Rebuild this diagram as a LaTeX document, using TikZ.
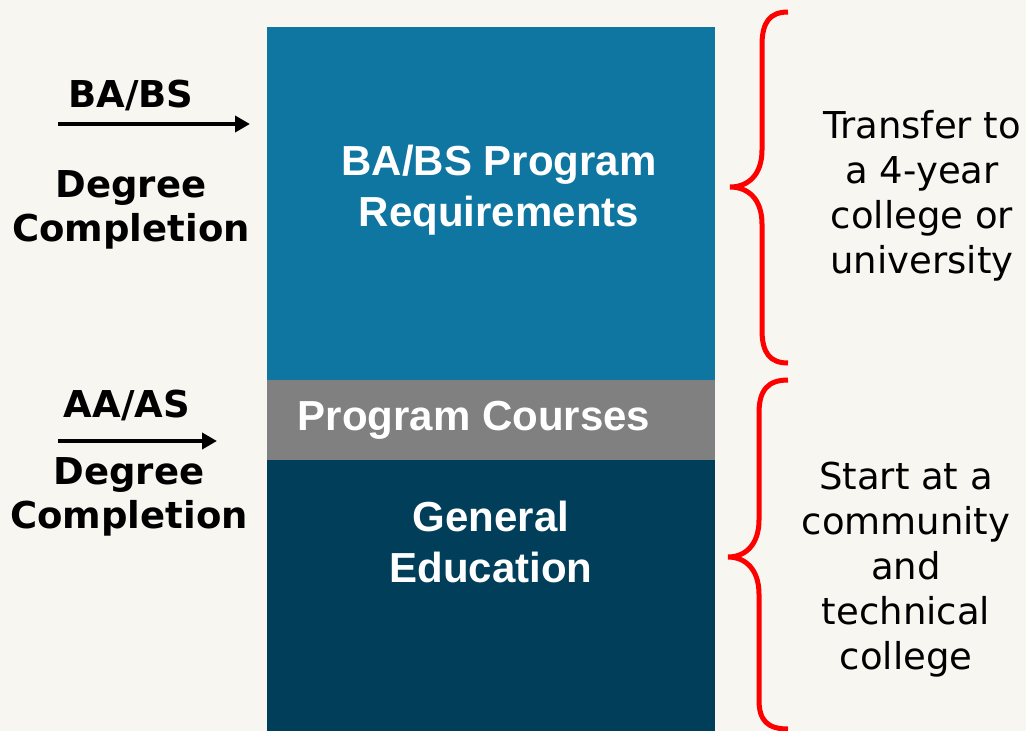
\documentclass[tikz,border=0pt]{standalone}
\usepackage{fontspec}
\setmainfont{Liberation Sans}
\newfontfamily\dvs{DejaVu Sans}
\usetikzlibrary{arrows.meta}
\definecolor{bg}{RGB}{247,246,240}
\definecolor{topblue}{RGB}{14,118,161}
\definecolor{midgray}{RGB}{128,128,128}
\definecolor{navy}{RGB}{1,62,90}
\definecolor{bred}{RGB}{255,0,0}
\begin{document}
\begin{tikzpicture}[x=1pt,y=-1pt,
  box/.style={draw=none, inner sep=0pt, outer sep=0pt, anchor=north west, minimum width=448pt},
  boxtext/.style={text=white, font=\bfseries\fontsize{42}{51}\selectfont, align=center, inner sep=0pt},
  sidelabel/.style={font=\dvs\bfseries\fontsize{37}{44}\selectfont, align=center, inner sep=0pt},
  sidetext/.style={font=\dvs\fontsize{37}{45}\selectfont, align=center, inner sep=0pt},
  deg/.style={-{Triangle[length=15pt,width=16pt]}, line width=4pt},
  brace/.style={draw=bred, line width=5pt}]
\fill[bg] (0,0) rectangle (1026,731);
\useasboundingbox (0,0) rectangle (1026,731);
% stacked boxes
\node[box, fill=topblue, minimum height=353pt] (req) at (267,27) {};
\node[box, fill=midgray, minimum height=80pt] (prog) at (267,380) {};
\node[box, fill=navy, minimum height=271pt] (gen) at (267,460) {};
\node[boxtext] (reqt) at (499,190) {BA/BS Program\\Requirements};
\node[boxtext] (progt) at (474,420) {Program Courses};
\node[boxtext] (gent) at (491,542) {General\\Education};
% left labels
\node[sidelabel] (ba) at (131,95) {BA/BS};
\coordinate (bas) at (58,124);
\coordinate (bae) at (250,124);
\draw[deg] (bas) -- (bae);
\node[sidelabel] (bad) at (131,210) {Degree\\Completion};
\node[sidelabel] (aa) at (127,405) {AA/AS};
\coordinate (aas) at (58,441);
\coordinate (aae) at (217,441);
\draw[deg] (aas) -- (aae);
\node[sidelabel] (aad) at (129,497) {Degree\\Completion};
% right texts
\node[sidetext] (tr) at (922,196) {Transfer to\\a 4-year\\college or\\university};
\node[sidetext] (st) at (906,570) {Start at a\\community\\and\\technical\\college};
% braces
\draw[brace] (788,12) .. controls (770,12) and (762,22) .. (762,45) -- (762,150)
  .. controls (762,175) and (748,187) .. (730,187)
  .. controls (748,187) and (762,199) .. (762,224) -- (762,330)
  .. controls (762,353) and (770,363) .. (788,363);
\draw[brace] (788,380) .. controls (768,380) and (759,390) .. (759,413) -- (759,520)
  .. controls (759,545) and (745,557) .. (728,557)
  .. controls (745,557) and (759,569) .. (759,594) -- (759,700)
  .. controls (759,721) and (768,729) .. (788,729);
\end{tikzpicture}
\end{document}
